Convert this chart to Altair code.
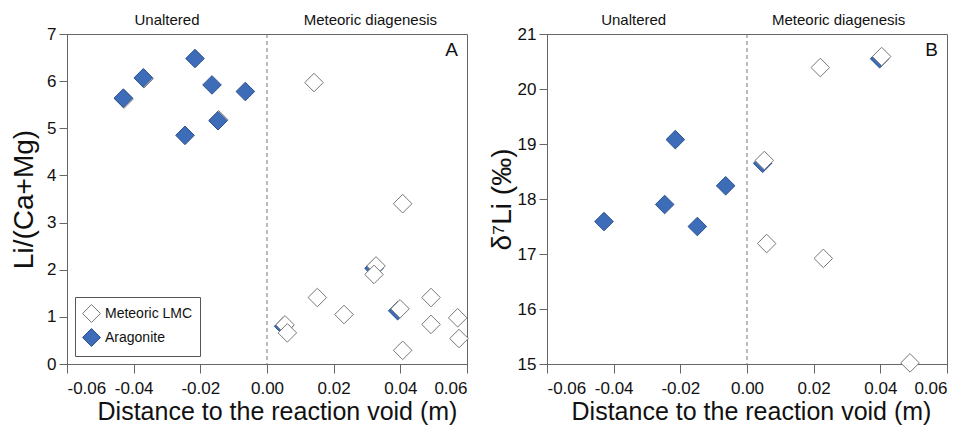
import altair as alt
import pandas as pd

# ---- data ----
# Panel A : Li/(Ca+Mg)
a_arag_x = [-0.0431, -0.0371, -0.0216, -0.0165, -0.0065, -0.0147, -0.0246]
a_arag_y = [5.64, 6.07, 6.48, 5.92, 5.78, 5.16, 4.85]
# aragonite points largely hidden below LMC points
a_arag_hidden_x = [0.0321, 0.0392, 0.0050]
a_arag_hidden_y = [2.03, 1.13, 0.80]
a_lmc_x = [0.0141, 0.0407, 0.0327, 0.0321, 0.0151, 0.0231, 0.0399, 0.0492,
           0.0492, 0.0407, 0.0572, 0.0576, 0.0054, 0.0061,
           -0.0429, -0.0369, -0.0145]
a_lmc_y = [5.97, 3.40, 2.08, 1.90, 1.41, 1.05, 1.17, 1.41,
           0.84, 0.29, 0.98, 0.54, 0.83, 0.66,
           5.62, 6.05, 5.18]

# Panel B : d7Li
b_arag_x = [-0.0429, -0.0247, -0.0215, -0.0149, -0.0064]
b_arag_y = [17.59, 17.90, 19.08, 17.50, 18.24]
b_arag_hidden_x = [0.0398, 0.0047]
b_arag_hidden_y = [20.55, 18.65]
b_lmc_x = [0.0220, 0.0404, 0.0052, 0.0059, 0.0229, 0.0489]
b_lmc_y = [20.39, 20.59, 18.70, 17.19, 16.92, 15.02]

series = ["Meteoric LMC", "Aragonite"]
x_ticks = [-0.06, -0.04, -0.02, 0.0, 0.02, 0.04, 0.06]

FONT = "Liberation Sans"
BLUE = "#3d6cb9"
BLUE_EDGE = "#2b4f8c"
GREY_EDGE = "#777777"
SIZE = 345
XLABEL = "replace(format(datum.value, '.2f'), '\u2212', '-')"


def df(xs, ys, kind):
    return pd.DataFrame({"x": xs, "y": ys, "type": kind})


def panel(lmc, arag, hidden, ydom, yticks, ytitle, letter, show_legend,
          lab_pos, ytitle_pad, xtitle_x):
    fill = alt.Fill("type:N",
                    scale=alt.Scale(domain=series, range=["white", BLUE]),
                    legend=(alt.Legend(orient="none", legendX=8, legendY=263,
                                       title=None, symbolType="diamond",
                                       symbolSize=320, labelFontSize=14,
                                       labelFont=FONT, labelColor="#111",
                                       strokeColor="#555", fillColor="white",
                                       padding=7, rowPadding=1, labelOffset=4,
                                       symbolStrokeWidth=1)
                            if show_legend else None))
    stroke = alt.Stroke("type:N",
                        scale=alt.Scale(domain=series, range=[GREY_EDGE, BLUE_EDGE]),
                        legend=(alt.Legend(orient="none", legendX=8, legendY=263,
                                           title=None) if show_legend else None))
    xenc = alt.X("x:Q", scale=alt.Scale(domain=[-0.06, 0.06], nice=False),
                 axis=alt.Axis(values=x_ticks, labelExpr=XLABEL,
                               titleX=xtitle_x,
                               title="Distance to the reaction void (m)"))
    yenc = alt.Y("y:Q", scale=alt.Scale(domain=ydom, nice=False),
                 axis=alt.Axis(values=yticks, title=ytitle,
                               titlePadding=ytitle_pad))

    def pts(d):
        return alt.Chart(d).mark_point(shape="diamond", filled=True, size=SIZE,
                                       strokeWidth=1, opacity=1).encode(
            x=xenc, y=yenc, fill=fill, stroke=stroke)

    zero = alt.Chart(pd.DataFrame({"z": [0]})).mark_rule(
        color="#777", strokeDash=[4, 3], strokeWidth=1).encode(x=alt.X("z:Q"))

    texts = []
    for lbl, xv in zip(["Unaltered", "Meteoric diagenesis"], lab_pos):
        texts.append(alt.Chart(pd.DataFrame({"t": [lbl]})).mark_text(
            font=FONT, fontSize=15, color="#111", baseline="alphabetic",
            align="center").encode(x=alt.datum(xv), y=alt.value(-9),
                                    text="t:N"))
    letter_t = alt.Chart(pd.DataFrame({"t": [letter]})).mark_text(
        font=FONT, fontSize=19, color="#111", baseline="middle",
        align="right").encode(x=alt.value(391), y=alt.value(16), text="t:N")

    return alt.layer(zero, pts(hidden), pts(lmc), pts(arag), letter_t, *texts
                     ).properties(width=400, height=330)


left = panel(df(a_lmc_x, a_lmc_y, "Meteoric LMC"),
             df(a_arag_x, a_arag_y, "Aragonite"),
             df(a_arag_hidden_x, a_arag_hidden_y, "Aragonite"),
             [0, 7], list(range(0, 8)), "Li/(Ca+Mg)", "A", True,
             [-0.03, 0.031], 8, 210)
right = panel(df(b_lmc_x, b_lmc_y, "Meteoric LMC"),
              df(b_arag_x, b_arag_y, "Aragonite"),
              df(b_arag_hidden_x, b_arag_hidden_y, "Aragonite"),
              [15, 21], list(range(15, 22)), "δ⁷Li (‰)", "B", False,
              [-0.034, 0.0275], 1, 204)

chart = alt.hconcat(left, right, spacing=80, bounds="flush").resolve_scale(
    fill="independent", stroke="independent"
).resolve_legend(fill="independent", stroke="independent").properties(
    padding={"left": 10, "top": 12, "right": 0, "bottom": 0}
).configure_view(stroke="#666", strokeWidth=1).configure_axis(
    labelFont=FONT, titleFont=FONT, labelFontSize=17, titleFontSize=25,
    labelColor="#111", titleColor="#111", titleFontWeight="normal",
    domainColor="#666", tickColor="#666", tickSize=8, grid=False,
    labelPadding=3
).configure_axisX(labelPadding=7, titlePadding=3, tickSize=9
).configure_axisY(titleFontSize=28, labelPadding=3)

chart.save("out.html", embed_options={"renderer": "svg", "actions": False})
